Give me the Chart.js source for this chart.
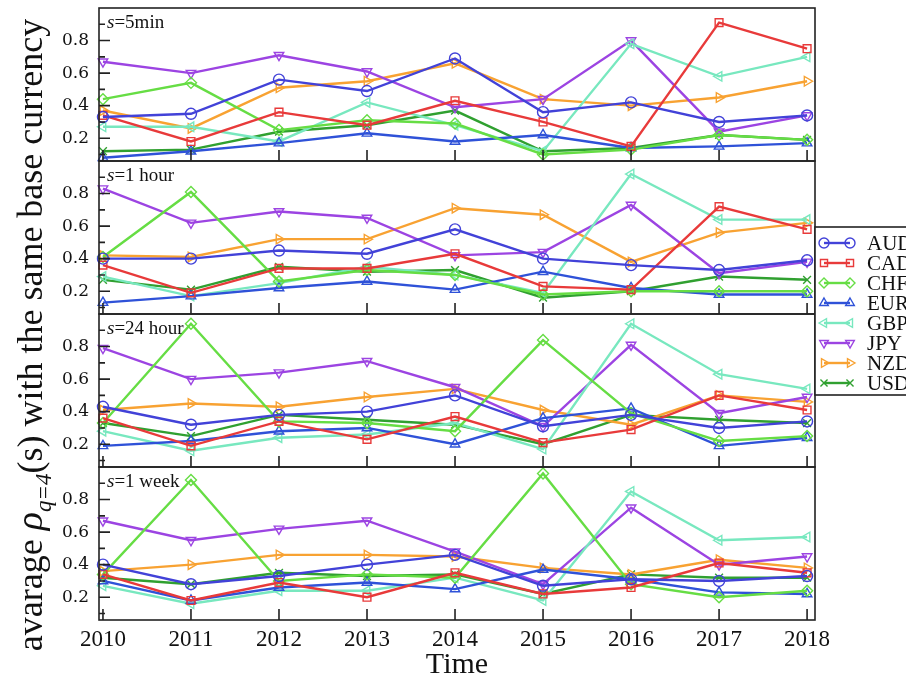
<!DOCTYPE html>
<html lang="en">
<head>
    <meta charset="UTF-8">
    <title>avarage rho q=4 with the same base currency</title>
    <script src="https://cdn.jsdelivr.net/npm/chart.js"></script>
    <style>
        body { margin: 0; background: #fff; }
        #wrap { width: 906px; height: 679px; }
    </style>
</head>
<body>
    <div id="wrap"><canvas id="rhoChart" width="906" height="679"></canvas></div>

    <script>
        // years on the x axis
        const years = [2010, 2011, 2012, 2013, 2014, 2015, 2016, 2017, 2018];
        const yTicks = [0.2, 0.4, 0.6, 0.8];
        const panelNames = ['5min', '1 hour', '24 hour', '1 week'];
        const currencies = ['AUD', 'CAD', 'CHF', 'EUR', 'GBP', 'JPY', 'NZD', 'USD'];

        // one row per panel: s=5min, s=1 hour, s=24 hour, s=1 week
        const AUD = [
            [0.33, 0.35, 0.56, 0.49, 0.69, 0.36, 0.42, 0.30, 0.34],
            [0.40, 0.40, 0.45, 0.43, 0.58, 0.40, 0.36, 0.33, 0.39],
            [0.43, 0.32, 0.38, 0.40, 0.50, 0.31, 0.38, 0.30, 0.34],
            [0.40, 0.28, 0.33, 0.40, 0.46, 0.27, 0.31, 0.30, 0.33]
        ];
        const CAD = [
            [0.34, 0.18, 0.36, 0.28, 0.43, 0.30, 0.15, 0.91, 0.75],
            [0.36, 0.19, 0.34, 0.34, 0.43, 0.23, 0.21, 0.72, 0.58],
            [0.36, 0.19, 0.34, 0.23, 0.37, 0.21, 0.29, 0.50, 0.41],
            [0.34, 0.18, 0.29, 0.20, 0.35, 0.22, 0.26, 0.41, 0.35]
        ];
        const CHF = [
            [0.44, 0.54, 0.25, 0.31, 0.29, 0.10, 0.13, 0.22, 0.19],
            [0.41, 0.81, 0.26, 0.33, 0.30, 0.18, 0.20, 0.20, 0.20],
            [0.33, 0.94, 0.34, 0.33, 0.28, 0.84, 0.39, 0.22, 0.25],
            [0.34, 0.92, 0.30, 0.34, 0.32, 0.96, 0.28, 0.20, 0.24]
        ];
        const EUR = [
            [0.08, 0.12, 0.17, 0.23, 0.18, 0.22, 0.14, 0.15, 0.17],
            [0.13, 0.17, 0.22, 0.26, 0.21, 0.32, 0.22, 0.18, 0.18],
            [0.19, 0.22, 0.28, 0.30, 0.20, 0.36, 0.42, 0.19, 0.24],
            [0.30, 0.18, 0.26, 0.29, 0.25, 0.37, 0.31, 0.23, 0.22]
        ];
        const GBP = [
            [0.27, 0.27, 0.18, 0.42, 0.28, 0.12, 0.78, 0.58, 0.70],
            [0.29, 0.17, 0.25, 0.35, 0.30, 0.19, 0.92, 0.64, 0.64],
            [0.28, 0.16, 0.24, 0.26, 0.33, 0.17, 0.94, 0.63, 0.54],
            [0.27, 0.16, 0.24, 0.24, 0.32, 0.18, 0.85, 0.55, 0.57]
        ];
        const JPY = [
            [0.67, 0.60, 0.71, 0.61, 0.39, 0.44, 0.80, 0.24, 0.34],
            [0.83, 0.62, 0.69, 0.65, 0.42, 0.44, 0.73, 0.31, 0.38],
            [0.79, 0.60, 0.64, 0.71, 0.55, 0.31, 0.81, 0.39, 0.49],
            [0.67, 0.55, 0.62, 0.67, 0.48, 0.28, 0.75, 0.40, 0.45]
        ];
        const NZD = [
            [0.37, 0.26, 0.51, 0.55, 0.66, 0.44, 0.40, 0.45, 0.55],
            [0.42, 0.41, 0.52, 0.52, 0.71, 0.67, 0.38, 0.56, 0.62],
            [0.41, 0.45, 0.43, 0.49, 0.54, 0.41, 0.32, 0.50, 0.46],
            [0.36, 0.40, 0.46, 0.46, 0.45, 0.38, 0.34, 0.43, 0.38]
        ];
        const USD = [
            [0.12, 0.13, 0.24, 0.28, 0.37, 0.12, 0.14, 0.22, 0.19],
            [0.27, 0.21, 0.35, 0.32, 0.33, 0.16, 0.20, 0.29, 0.27],
            [0.33, 0.25, 0.38, 0.35, 0.32, 0.20, 0.38, 0.35, 0.33],
            [0.32, 0.28, 0.35, 0.33, 0.34, 0.22, 0.34, 0.32, 0.32]
        ];

        const values = [AUD, CAD, CHF, EUR, GBP, JPY, NZD, USD];
        const colors = ['#4242d8', '#e83a3a', '#66dd44', '#2f52d8', '#78e8bf', '#9c44e2', '#f8a232', '#30a030'];
        const markers = [
            { style: 'circle', rot: 0 },
            { style: 'rect', rot: 0 },
            { style: 'rectRot', rot: 0 },
            { style: 'triangle', rot: 0 },
            { style: 'triangle', rot: -90 },
            { style: 'triangle', rot: 180 },
            { style: 'triangle', rot: 90 },
            { style: 'crossRot', rot: 0 }
        ];

        const serif = '"Liberation Serif", "Times New Roman", serif';
        const panelIds = ['p1', 'p2', 'p3', 'p4'];

        // build datasets: 8 currencies x 4 panels
        const datasets = [];
        panelIds.forEach((id, p) => {
            currencies.forEach((cur, c) => {
                datasets.push({
                    label: cur,
                    data: years.map((yr, k) => ({ x: yr, y: values[c][p][k] })),
                    xAxisID: 'x',
                    yAxisID: id,
                    borderColor: colors[c],
                    backgroundColor: 'rgba(0,0,0,0)',
                    borderWidth: 2.4,
                    pointStyle: markers[c].style,
                    rotation: markers[c].rot,
                    pointRadius: 5.5,
                    pointBorderWidth: 1.4,
                    pointBorderColor: colors[c],
                    pointBackgroundColor: 'rgba(0,0,0,0)',
                    tension: 0,
                    clip: false
                });
            });
        });

        const scales = {
            x: {
                type: 'linear',
                position: 'bottom',
                min: 2009.955,
                max: 2018.09,
                grid: { display: false, drawTicks: false },
                border: { display: false },
                afterBuildTicks: s => { s.ticks = years.map(v => ({ value: v })); },
                afterFit: s => { s.height = 59; s.paddingLeft = 0; s.paddingRight = 0; },
                ticks: {
                    color: '#111',
                    padding: 6,
                    maxRotation: 0,
                    font: { family: serif, size: 23 },
                    callback: v => String(v)
                },
                title: {
                    display: true,
                    text: 'Time',
                    color: '#111',
                    padding: { top: 0, bottom: -4 },
                    font: { family: serif, size: 30 }
                }
            }
        };
        panelIds.forEach((id, i) => {
            scales[id] = {
                type: 'linear',
                position: 'left',
                stack: 'panels',
                stackWeight: 1,
                weight: 4 - i,
                min: 0.06,
                max: 1.0,
                grid: { display: false, drawTicks: false },
                border: { display: false },
                afterBuildTicks: s => { s.ticks = yTicks.map(v => ({ value: v })); },
                afterFit: s => { s.width = 99; s.paddingTop = 0; s.paddingBottom = 0; },
                ticks: {
                    color: '#111',
                    padding: 10,
                    font: { family: '"DejaVu Serif", serif', size: 17 },
                    callback: v => v.toFixed(1)
                }
            };
        });

        // panel frames, inside ticks, panel labels, y title and legend
        const framePlugin = {
            id: 'frames',
            afterDatasetsDraw(chart) {
                const ctx = chart.ctx;
                const a = chart.chartArea;
                const xs = chart.scales.x;
                ctx.save();
                ctx.strokeStyle = '#222';
                ctx.lineWidth = 1.6;
                panelIds.forEach((id, i) => {
                    const s = chart.scales[id];
                    ctx.strokeRect(a.left, s.top, a.right - a.left, s.bottom - s.top);
                    ctx.beginPath();
                    for (let k = 1; k <= 9; k++) {
                        const y = s.getPixelForValue(k / 10);
                        ctx.moveTo(a.left, y);
                        ctx.lineTo(a.left + (k % 2 === 0 ? 11 : 6), y);
                    }
                    years.forEach(yr => {
                        const px = xs.getPixelForValue(yr);
                        ctx.moveTo(px, s.bottom);
                        ctx.lineTo(px, s.bottom - 11);
                    });
                    ctx.stroke();

                    ctx.fillStyle = '#111';
                    ctx.textBaseline = 'alphabetic';
                    ctx.font = 'italic 19px ' + serif;
                    const lx = a.left + 8, ly = s.top + 20;
                    ctx.fillText('s', lx, ly);
                    const w = ctx.measureText('s').width;
                    ctx.font = '19px ' + serif;
                    ctx.fillText('=' + panelNames[i], lx + w, ly);
                });

                // rotated y axis title with subscript
                ctx.translate(42, 335);
                ctx.rotate(-Math.PI / 2);
                const parts = [
                    { t: 'avarage ', f: '36px ' + serif, dy: 0 },
                    { t: '\u03c1', f: 'italic 38px ' + serif, dy: 0 },
                    { t: 'q=4', f: 'italic 23px ' + serif, dy: 9 },
                    { t: '(s) with the same base currency', f: '36px ' + serif, dy: 0 }
                ];
                let total = 0;
                parts.forEach(p => { ctx.font = p.f; total += ctx.measureText(p.t).width; });
                let tx = -total / 2;
                ctx.textBaseline = 'alphabetic';
                parts.forEach(p => {
                    ctx.font = p.f;
                    ctx.fillText(p.t, tx, p.dy);
                    tx += ctx.measureText(p.t).width;
                });
                ctx.restore();
            },
            afterDraw(chart) {
                const ctx = chart.ctx;
                ctx.save();
                ctx.fillStyle = '#fff';
                ctx.fillRect(815, 227, 100, 168);
                ctx.strokeStyle = '#222';
                ctx.lineWidth = 1.6;
                ctx.strokeRect(815, 227, 100, 168);
                currencies.forEach((cur, c) => {
                    const y = 243 + c * 20;
                    ctx.strokeStyle = colors[c];
                    ctx.lineWidth = 2.4;
                    ctx.beginPath();
                    ctx.moveTo(824, y);
                    ctx.lineTo(850, y);
                    ctx.stroke();
                    const opts = {
                        pointStyle: markers[c].style,
                        rotation: markers[c].rot,
                        radius: 5,
                        borderWidth: 1.4
                    };
                    ctx.fillStyle = 'rgba(0,0,0,0)';
                    ctx.lineWidth = 1.4;
                    if (Chart.helpers && Chart.helpers.drawPoint) {
                        Chart.helpers.drawPoint(ctx, opts, 824, y);
                        Chart.helpers.drawPoint(ctx, opts, 850, y);
                    }
                    ctx.fillStyle = '#111';
                    ctx.font = '21px ' + serif;
                    ctx.textBaseline = 'middle';
                    ctx.fillText(cur, 867, y + 1);
                });
                ctx.restore();
            }
        };

        new Chart(document.getElementById('rhoChart').getContext('2d'), {
            type: 'line',
            data: { datasets: datasets },
            options: {
                responsive: false,
                animation: false,
                devicePixelRatio: 1,
                layout: { padding: { top: 8, right: 91, bottom: 0, left: 0 } },
                plugins: {
                    legend: { display: false },
                    tooltip: { enabled: false }
                },
                scales: scales
            },
            plugins: [framePlugin]
        });
    </script>
</body>
</html>
